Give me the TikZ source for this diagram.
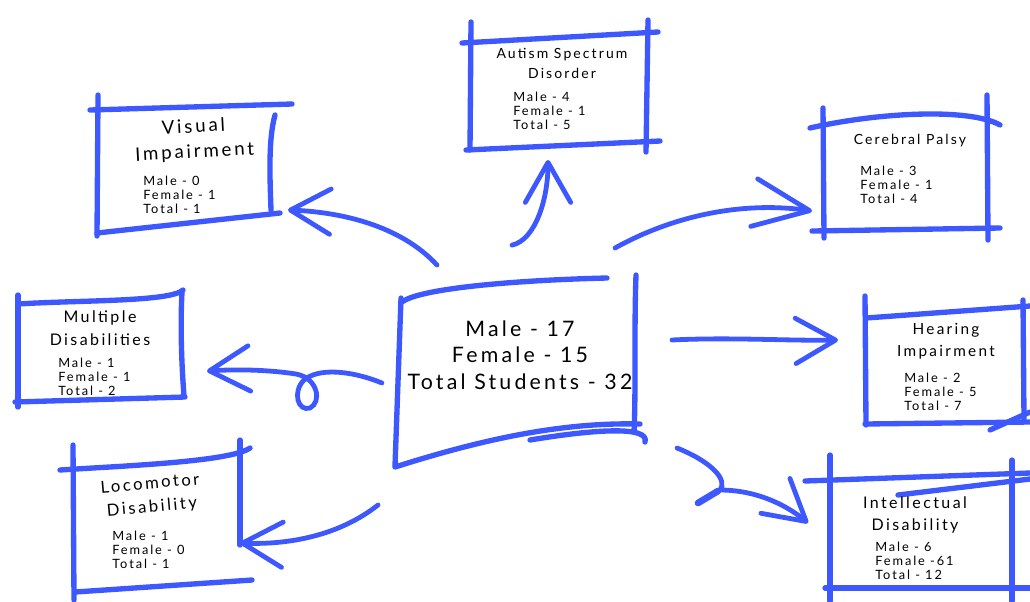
\documentclass[tikz,border=0pt]{standalone}
\usepackage{fontspec}
\setmainfont{Lato}[LetterSpace=15]
\usepackage{tikz}
\usetikzlibrary{arrows.meta}

\definecolor{skblue}{RGB}{61,88,255}

\tikzset{
  stroke/.style={draw=skblue, line width=4pt, line cap=round, line join=round},
  link/.style={draw=skblue, line width=3.6pt, line cap=round,
    -{Straight Barb[length=30pt,width=34pt,round]}},
  title/.style={align=center, inner sep=0pt, font=\fontsize{12}{17}\selectfont},
  stats/.style={align=left, anchor=west, inner sep=0pt, font=\fontsize{9.6}{10.3}\selectfont},
  main/.style={align=center, inner sep=0pt, font=\fontsize{16}{20}\selectfont}
}

\begin{document}
\begin{tikzpicture}[x=0.75pt, y=-0.75pt]
  \useasboundingbox (0,0) rectangle (1030,601);

  % Centre box
  \draw[stroke] (402,302) .. controls (420,288) and (520,280) .. (607,278);
  \draw[stroke] (636,275) .. controls (634,330) and (636,390) .. (634,432);
  \draw[stroke] (401,298) -- (395,466);
  \draw[stroke] (395,467) .. controls (480,440) and (560,422) .. (640,424);
  \draw[stroke] (530,440) .. controls (590,430) and (650,425) .. (645,442);
  \node[main] (ctr) at (520,355) {Male - 17\\Female - 15\\Total Students - 32};

  % Autism Spectrum Disorder
  \draw[stroke] (471,22) -- (470,150);
  \draw[stroke] (462,43) -- (658,32);
  \draw[stroke] (648,20) -- (646,152);
  \draw[stroke] (466,150) -- (660,141);
  \node[title, font=\fontsize{10.5}{15}\selectfont] (asd) at (562,63) {Autism Spectrum\\Disorder};
  \node[stats] (asdS) at (513,111) {Male - 4\\Female - 1\\Total - 5};

  % Visual Impairment
  \draw[stroke] (90,110) -- (292,104);
  \draw[stroke] (98,95) -- (97,236);
  \draw[stroke] (275,115) .. controls (268,140) and (270,180) .. (271,210);
  \draw[stroke] (97,233) -- (280,213);
  \node[title, rotate=3, font=\fontsize{14}{19}\selectfont] (vis) at (194,140) {Visual\\Impairment};
  \node[stats] (visS) at (143,195) {Male - 0\\Female - 1\\Total - 1};

  % Cerebral Palsy
  \draw[stroke] (810,128) .. controls (880,112) and (970,108) .. (1000,125);
  \draw[stroke] (823,108) -- (824,238);
  \draw[stroke] (987,95) -- (988,240);
  \draw[stroke] (812,231) -- (1000,228);
  \node[title, font=\fontsize{10.5}{14}\selectfont] (cp) at (910,141) {Cerebral Palsy};
  \node[stats] (cpS) at (860,185) {Male - 3\\Female - 1\\Total - 4};

  % Multiple Disabilities
  \draw[stroke] (18,295) -- (18,407);
  \draw[stroke] (18,304) .. controls (80,300) and (170,302) .. (183,290);
  \draw[stroke] (182,292) .. controls (180,330) and (182,370) .. (184,396);
  \draw[stroke] (15,402) -- (185,397);
  \node[title] (mul) at (100,328) {Multiple\\Disabilities};
  \node[stats] (mulS) at (58,377) {Male - 1\\Female - 1\\Total - 2};

  % Hearing Impairment
  \draw[stroke] (865,296) -- (866,425);
  \draw[stroke] (866,318) -- (1030,306);
  \draw[stroke] (1023,300) -- (1024,420);
  \draw[stroke] (865,424) -- (1030,422);
  \draw[stroke] (990,430) -- (1030,412);
  \node[title, font=\fontsize{11.5}{16.5}\selectfont] (hi) at (946,341) {Hearing\\Impairment};
  \node[stats] (hiS) at (904,392) {Male - 2\\Female - 5\\Total - 7};

  % Locomotor Disability
  \draw[stroke] (73,445) -- (74,600);
  \draw[stroke] (60,470) .. controls (120,466) and (230,462) .. (250,448);
  \draw[stroke] (240,440) -- (240,545);
  \draw[stroke] (75,592) -- (252,580);
  \node[title, rotate=5, font=\fontsize{12.5}{17.5}\selectfont] (loc) at (151,496) {Locomotor\\Disability};
  \node[stats] (locS) at (112,550) {Male - 1\\Female - 0\\Total - 1};

  % Intellectual Disability
  \draw[stroke] (830,455) -- (830,601);
  \draw[stroke] (805,481) -- (1030,473);
  \draw[stroke] (898,495) -- (1030,479);
  \draw[stroke] (1012,460) -- (1012,601);
  \draw[stroke] (825,588) -- (1030,588);
  \node[title] (id) at (915,515) {Intellectual\\Disability};
  \node[stats] (idS) at (875,561) {Male - 6\\Female -61\\Total - 12};

  % Arrow ends
  \coordinate (toAsd) at (548,160);
  \coordinate (toVis) at (288,210);
  \coordinate (toCp) at (812,211);
  \coordinate (toMul) at (207,371);
  \coordinate (toHi) at (838,340);
  \coordinate (toId) at (808,523);
  \coordinate (toLoc) at (240,543);

  % Arrows
  \draw[link] ([shift={(-8,-75)}]ctr.north) .. controls (535,240) and (548,200) .. (toAsd);
  \draw[link] (437,265) .. controls (400,225) and (340,212) .. (toVis);
  \draw[link, -{Straight Barb[length=42pt,width=36pt,round]}]
     (615,248) .. controls (680,212) and (750,202) .. (toCp);
  \draw[link] (382,383) .. controls (350,370) and (318,368) .. (304,380)
     .. controls (292,392) and (298,412) .. (310,408)
     .. controls (322,402) and (318,378) .. (296,374)
     .. controls (270,370) and (240,369) .. (toMul);
  \draw[link] (672,340) .. controls (730,337) and (790,341) .. (toHi);
  \draw[link] (677,448) .. controls (712,462) and (728,480) .. (720,490)
     .. controls (760,490) and (790,508) .. (toId);
  \draw[stroke, line width=5pt] (718,491) -- (698,503);
  \draw[link] (378,505) .. controls (340,535) and (290,545) .. (toLoc);
\end{tikzpicture}
\end{document}
